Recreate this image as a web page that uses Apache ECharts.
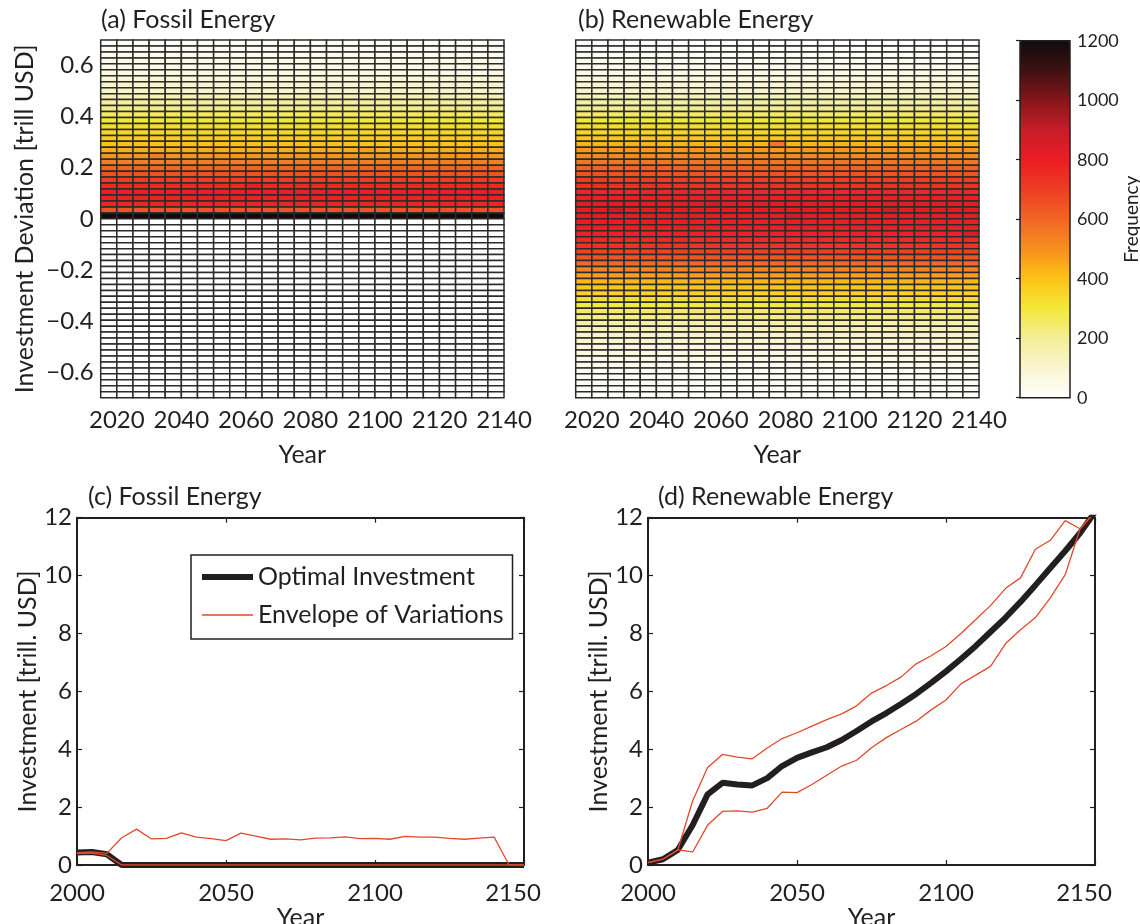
<!DOCTYPE html>
<html>
<head>
<meta charset="utf-8">
<script src="https://cdn.jsdelivr.net/npm/echarts@6/dist/echarts.min.js"></script>
<style>
html,body{margin:0;padding:0;background:#ffffff;}
#chart{width:1140px;height:924px;}
</style>
</head>
<body>
<div id="chart"></div>
<script>
// ---------- data ----------
// heat-map columns: start year of each 5-year column
const heatColumnYears = [2015,2020,2025,2030,2035,2040,2045,2050,2055,2060,2065,2070,2075,2080,2085,2090,2095,2100,2105,2110,2115,2120,2125,2130,2135];
const heatYearTicks = [2020,2040,2060,2080,2100,2120,2140];
const deviationTicks = [-0.6,-0.4,-0.2,0,0.2,0.4,0.6];
// frequency per deviation bin, top (+0.7) to bottom (-0.7), 60 bins
const fossilFrequencyByRow = [
  12,20,35,45,55,65,80,100,120,150,
  180,220,260,300,330,350,370,400,440,490,
  540,600,650,700,760,790,780,770,650,1200,
  0,0,0,0,0,0,0,0,0,0,
  0,0,0,0,0,0,0,0,0,0,
  0,0,0,0,0,0,0,0,0,0
];
const renewableFrequencyByRow = [
  10,15,20,30,40,55,70,90,110,140,
  170,210,250,300,330,350,380,430,480,520,
  560,610,650,700,740,770,790,820,830,820,
  800,790,780,760,730,690,640,590,530,470,
  420,390,360,330,290,250,210,175,145,120,
  95,75,60,45,35,25,20,15,10,8
];
// individual cells that differ from their row: [column index, row index, frequency]
const fossilCellNotes = [[3,19,540],[9,24,800],[16,18,470]];
const renewableCellNotes = [[12,17,560],[2,28,900],[8,27,880],[19,28,890],[13,29,870],[24,32,860]];
const frequencyColors = ['#ffffff','#f9f5cf','#f3ee98','#f3e838','#fbc316','#f6901e','#f16624','#ed3e24','#ec1c24','#c61e28','#86161a','#3f1112','#110b0b'];

const lineYears = [2000,2005,2010,2015,2020,2025,2030,2035,2040,2045,2050,2055,2060,2065,2070,2075,2080,2085,2090,2095,2100,2105,2110,2115,2120,2125,2130,2135,2140,2145,2150];
const fossilOptimal = [0.43,0.45,0.37,0,0,0,0,0,0,0,0,0,0,0,0,0,0,0,0,0,0,0,0,0,0,0,0,0,0,0,0];
const fossilUpper = [0.43,0.45,0.40,0.94,1.24,0.90,0.92,1.11,0.96,0.91,0.84,1.10,1.00,0.89,0.90,0.87,0.93,0.94,0.97,0.91,0.92,0.89,0.99,0.96,0.96,0.92,0.89,0.93,0.96,0,0];
const fossilLower = [0.39,0.41,0.33,0,0,0,0,0,0,0,0,0,0,0,0,0,0,0,0,0,0,0,0,0,0,0,0,0,0,0,0];
const renewOptimal = [0.08,0.2,0.52,1.38,2.44,2.84,2.78,2.75,3.0,3.42,3.7,3.89,4.07,4.32,4.63,4.96,5.25,5.57,5.91,6.29,6.69,7.12,7.57,8.06,8.55,9.09,9.67,10.26,10.85,11.47,12.2];
const renewUpper = [0.08,0.2,0.52,2.22,3.37,3.82,3.73,3.67,4.04,4.37,4.57,4.8,5.02,5.22,5.5,5.94,6.2,6.5,6.95,7.23,7.55,8.0,8.48,8.97,9.56,9.92,10.91,11.22,11.9,11.62,12.2];
const renewLower = [0.08,0.2,0.52,0.45,1.38,1.85,1.87,1.83,1.96,2.52,2.5,2.78,3.1,3.42,3.62,4.05,4.4,4.69,4.97,5.36,5.7,6.26,6.56,6.87,7.65,8.13,8.55,9.23,10.03,11.62,12.2];

// ---------- build ----------
const BIN = 0.7 / 30;      // deviation bin height
const COL = 5;             // years per column
const FONT = 'Lato';
const INK = '#231f20';
const RED = '#e2492b';

function buildCells(profile, notes) {
  const cells = [];
  heatColumnYears.forEach(function (yr) {
    profile.forEach(function (v, k) { cells.push([yr, 0.7 - (k + 1) * BIN, v]); });
  });
  notes.forEach(function (n) { cells[n[0] * profile.length + n[1]][2] = n[2]; });
  return cells;
}
function pairs(xs, ys) { return xs.map(function (x, i) { return [x, ys[i]]; }); }

function renderCell(params, api) {
  const x0 = api.value(0), y0 = api.value(1);
  const p0 = api.coord([x0, y0 + BIN]);
  const p1 = api.coord([x0 + COL, y0]);
  return {
    type: 'rect',
    shape: { x: p0[0], y: p0[1], width: p1[0] - p0[0], height: p1[1] - p0[1] },
    style: { fill: api.visual('color'), stroke: '#2b2b2b', lineWidth: 1.5 }
  };
}

const tickFont = { fontFamily: FONT, fontSize: 24, color: INK };
const nameFont = { fontFamily: FONT, fontSize: 25, color: INK };
function plain(v) { return String(v); }
function devFmt(v) {
  if (Math.abs(v) < 1e-9) return '0';
  return (v < 0 ? '\u2212' : '') + Math.abs(v).toFixed(1);
}
function yearFmt(v) { return v === 2150 ? '{last|2150}' : String(v); }

function heatX(grid) {
  return {
    gridIndex: grid, type: 'value', min: 2015, max: 2140,
    axisLine: { show: false }, splitLine: { show: false },
    axisTick: { show: false, customValues: heatYearTicks },
    axisLabel: Object.assign({ customValues: heatYearTicks, margin: 11, formatter: plain }, tickFont),
    name: 'Year', nameLocation: 'middle', nameGap: 45, nameTextStyle: nameFont
  };
}
function heatY(grid, withLabels) {
  return {
    gridIndex: grid, type: 'value', min: -0.7, max: 0.7,
    axisLine: { show: false }, splitLine: { show: false },
    axisTick: { show: false, customValues: deviationTicks },
    axisLabel: Object.assign({ show: withLabels, customValues: deviationTicks, formatter: devFmt, margin: 7 }, tickFont),
    name: withLabels ? 'Investment Deviation [trill USD]' : '',
    nameLocation: 'middle', nameGap: 63, nameTextStyle: nameFont
  };
}
function lineX(grid, top) {
  return {
    gridIndex: grid, type: 'value', min: 2000, max: 2150, interval: 50,
    position: top ? 'top' : 'bottom',
    axisLine: { show: true, onZero: false, lineStyle: { color: INK, width: 2 } },
    axisTick: { show: true, inside: true, length: 5, lineStyle: { color: INK, width: 1.2 } },
    splitLine: { show: false },
    axisLabel: Object.assign({ show: !top, margin: 16, formatter: yearFmt,
      rich: { last: { fontFamily: FONT, fontSize: 24, color: INK, padding: [0, 22, 0, 0] } } }, tickFont),
    name: top ? '' : 'Year', nameLocation: 'middle', nameGap: 34, nameTextStyle: nameFont
  };
}
function lineY(grid, right, nameGap) {
  return {
    gridIndex: grid, type: 'value', min: 0, max: 12, interval: 2,
    position: right ? 'right' : 'left',
    axisLine: { show: true, onZero: false, lineStyle: { color: INK, width: 2 } },
    axisTick: { show: true, inside: true, length: 5, lineStyle: { color: INK, width: 1.2 } },
    splitLine: { show: false },
    axisLabel: Object.assign({ show: !right, margin: 5, formatter: plain }, tickFont),
    name: right ? '' : 'Investment [trill. USD]', nameLocation: 'middle', nameGap: nameGap, nameTextStyle: nameFont
  };
}
function lineSeries(name, x, y, data, color, width) {
  return {
    type: 'line', name: name, xAxisIndex: x, yAxisIndex: y, data: data,
    symbol: 'none', showSymbol: false, silent: true,
    lineStyle: { color: color, width: width }, itemStyle: { color: color },
    emphasis: { disabled: true }
  };
}

const chart = echarts.init(document.getElementById('chart'), null, { renderer: 'canvas' });
chart.setOption({
  animation: false,
  backgroundColor: '#ffffff',
  textStyle: { fontFamily: FONT },
  title: [
    { text: '(a) Fossil Energy', left: 101, top: 7.5 },
    { text: '(b) Renewable Energy', left: 578, top: 7.5 },
    { text: '(c) Fossil Energy', left: 88, top: 484.5 },
    { text: '(d) Renewable Energy', left: 658, top: 484.5 }
  ].map(function (t) {
    return Object.assign({ padding: 0, textStyle: { fontFamily: FONT, fontSize: 25, fontWeight: 'normal', color: INK } }, t);
  }),
  grid: [
    { left: 100.7, top: 40, width: 403.3, height: 357.7, outerBoundsMode: 'none', containLabel: false },
    { left: 575.7, top: 40, width: 403.3, height: 357.7, outerBoundsMode: 'none', containLabel: false },
    { left: 1020, top: 40.7, width: 50, height: 357, outerBoundsMode: 'none', containLabel: false,
      show: true, borderColor: INK, borderWidth: 1.5, backgroundColor: 'transparent', z: 10 },
    { left: 77, top: 517.7, width: 447, height: 347.3, outerBoundsMode: 'none', containLabel: false },
    { left: 648, top: 517.7, width: 447, height: 347.3, outerBoundsMode: 'none', containLabel: false }
  ],
  xAxis: [
    heatX(0),
    heatX(1),
    { gridIndex: 2, type: 'value', min: 0, max: 1, show: false },
    lineX(3, false), lineX(3, true),
    lineX(4, false), lineX(4, true)
  ],
  yAxis: [
    heatY(0, true),
    heatY(1, false),
    { gridIndex: 2, type: 'value', min: 0, max: 1200, interval: 200, position: 'right', z: 11,
      axisLine: { show: false }, splitLine: { show: false },
      axisTick: { show: true, inside: true, length: 4, lineStyle: { color: INK, width: 1.2 } },
      axisLabel: { margin: 7, fontFamily: FONT, fontSize: 18, color: INK, formatter: plain },
      name: 'Frequency', nameLocation: 'middle', nameRotate: 90, nameGap: 45,
      nameTextStyle: { fontFamily: FONT, fontSize: 19, color: INK } },
    lineY(3, false, 35), lineY(3, true, 0),
    lineY(4, false, 36), lineY(4, true, 0)
  ],
  visualMap: {
    type: 'continuous', min: 0, max: 1200, dimension: 2, seriesIndex: [0, 1],
    inRange: { color: frequencyColors },
    calculable: false, hoverLink: false, realtime: false,
    orient: 'vertical', left: 1020, top: 40.7, itemWidth: 50, itemHeight: 357,
    padding: 0, text: null, showLabel: false
  },
  legend: {
    data: ['Optimal Investment', 'Envelope of Variations'],
    orient: 'vertical', left: 191, top: 555,
    itemWidth: 51, itemHeight: 14, itemGap: 13,
    padding: [9.5, 9, 11.5, 8],
    borderColor: INK, borderWidth: 1.5, backgroundColor: '#ffffff',
    textStyle: { fontFamily: FONT, fontSize: 25, color: INK },
    lineStyle: { width: 'inherit' },
    itemStyle: { opacity: 0 },
    selectedMode: false, z: 10
  },
  series: [
    { type: 'custom', name: 'Fossil deviation', xAxisIndex: 0, yAxisIndex: 0, silent: true,
      renderItem: renderCell, encode: { x: 0, y: 1 }, data: buildCells(fossilFrequencyByRow, fossilCellNotes) },
    { type: 'custom', name: 'Renewable deviation', xAxisIndex: 1, yAxisIndex: 1, silent: true,
      renderItem: renderCell, encode: { x: 0, y: 1 }, data: buildCells(renewableFrequencyByRow, renewableCellNotes) },
    lineSeries('Optimal Investment', 3, 3, pairs(lineYears, fossilOptimal), INK, 6),
    lineSeries('Envelope of Variations', 3, 3, pairs(lineYears, fossilUpper), RED, 1.3),
    lineSeries('Envelope of Variations', 3, 3, pairs(lineYears, fossilLower), RED, 1.3),
    lineSeries('Optimal Investment', 5, 5, pairs(lineYears, renewOptimal), INK, 6),
    lineSeries('Envelope of Variations', 5, 5, pairs(lineYears, renewUpper), RED, 1.3),
    lineSeries('Envelope of Variations', 5, 5, pairs(lineYears, renewLower), RED, 1.3)
  ]
});
</script>
</body>
</html>
